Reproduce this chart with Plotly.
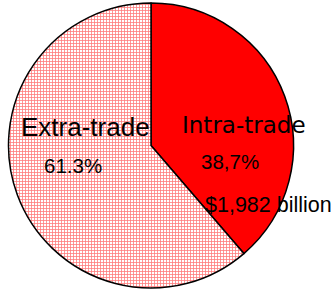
import plotly.graph_objects as go

# Data
categories = ["Intra-trade", "Extra-trade"]
shares = [38.7, 61.3]
share_labels = ["38,7%", "61.3%"]
value_label = "$1,982 billion"

W, H = 335, 289

fig = go.Figure()
fig.add_trace(go.Pie(
    labels=categories,
    values=shares,
    sort=False,
    direction="clockwise",
    rotation=0,
    textinfo="none",
    textposition="none",
    hoverinfo="label+percent",
    showlegend=False,
    domain=dict(x=[6 / W, 296 / W], y=[1 - 288 / H, 1 - 3 / H]),
    marker=dict(
        colors=["#FF0000", "#FFFFFF"],
        line=dict(color="black", width=1.5),
        pattern=dict(
            shape=["", "+"],
            fgcolor=["#FF0000", "#FF7A7A"],
            bgcolor=["#FF0000", "#FFFFFF"],
            size=3,
            solidity=0.45,
        ),
    ),
))

def px(x, y):
    return x / W, 1 - y / H

SANS = "Liberation Sans, Arial, sans-serif"
annots = [
    (categories[1], 85, 127, 26, SANS),
    (share_labels[1], 73, 165, 20.5, SANS),
    (categories[0], 244, 125, 23, "DejaVu Sans, sans-serif"),
    (share_labels[0], 230, 161, 20.5, SANS),
    (value_label, 268, 205, 21.5, SANS),
]
for text, x, y, size, fam in annots:
    ax, ay = px(x, y)
    fig.add_annotation(
        x=ax, y=ay, xref="paper", yref="paper",
        text=text, showarrow=False,
        xanchor="center", yanchor="middle",
        font=dict(family=fam, size=size, color="black"),
    )

fig.update_layout(
    width=W, height=H,
    margin=dict(l=0, r=0, t=0, b=0),
    paper_bgcolor="white",
    plot_bgcolor="white",
)

fig.write_html(
    "out.html",
    config={"displayModeBar": False},
    post_script="document.body.style.margin='0';document.body.style.padding='0';document.body.style.overflow='hidden';",
)
